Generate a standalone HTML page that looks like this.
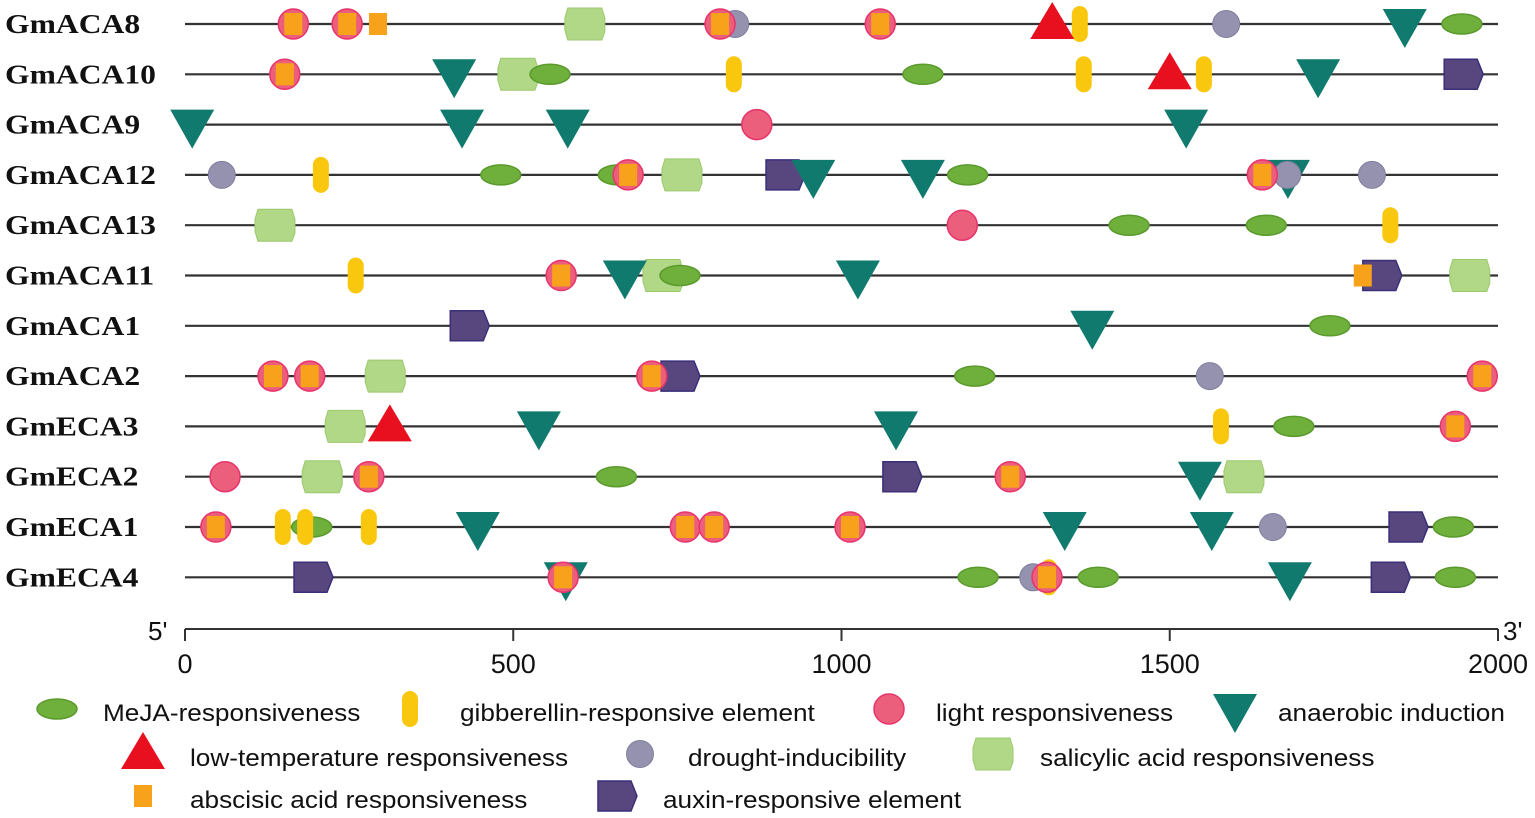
<!DOCTYPE html>
<html><head><meta charset="utf-8">
<style>
body{margin:0;background:#fff;width:1535px;height:818px;overflow:hidden;font-family:"Liberation Sans",sans-serif}
svg{display:block}
</style></head>
<body>
<svg id="chart" width="1535" height="818" xmlns="http://www.w3.org/2000/svg"></svg>
<script>
const genes = ["GmACA8","GmACA10","GmACA9","GmACA12","GmACA13","GmACA11","GmACA1","GmACA2","GmECA3","GmECA2","GmECA1","GmECA4"];
// M=MeJA, G=gibberellin, L=light, A=anaerobic, T=low-temp, D=drought, S=salicylic, B=abscisic, X=auxin, LB=light+abscisic
const elements = [
 [[165,"LB"],[247,"LB"],[294,"B"],[609,"S"],[838,"D"],[815,"LB"],[1059,"LB"],[1321,"T"],[1363,"G"],[1586,"D"],[1858,"A"],[1945,"M"]],
 [[152,"LB"],[410,"A"],[556,"M"],[507,"S"],[836,"G"],[1124,"M"],[1369,"G"],[1500,"T"],[1552,"G"],[1726,"A"],[1947,"X"]],
 [[11,"A"],[422,"A"],[583,"A"],[871,"L"],[1525,"A"]],
 [[56,"D"],[207,"G"],[481,"M"],[660,"M"],[675,"LB"],[757,"S"],[914,"X"],[957,"A"],[1124,"A"],[1192,"M"],[1680,"A"],[1641,"LB"],[1679,"D"],[1808,"D"]],
 [[137,"S"],[1184,"L"],[1438,"M"],[1647,"M"],[1836,"G"]],
 [[260,"G"],[573,"LB"],[670,"A"],[754,"M"],[728,"S"],[1025,"A"],[1794,"B"],[1823,"X"],[1957,"S"]],
 [[433,"X"],[1382,"A"],[1744,"M"]],
 [[134,"LB"],[190,"LB"],[305,"S"],[711,"LB"],[754,"X"],[1203,"M"],[1561,"D"],[1976,"LB"]],
 [[244,"S"],[312,"T"],[539,"A"],[1083,"A"],[1578,"G"],[1689,"M"],[1935,"LB"]],
 [[61,"L"],[209,"S"],[280,"LB"],[657,"M"],[1092,"X"],[1257,"LB"],[1546,"A"],[1613,"S"]],
 [[47,"LB"],[149,"G"],[193,"M"],[183,"G"],[280,"G"],[446,"A"],[762,"LB"],[806,"LB"],[1013,"LB"],[1340,"A"],[1564,"A"],[1657,"D"],[1863,"X"],[1932,"M"]],
 [[195,"X"],[580,"A"],[576,"LB"],[1208,"M"],[1292,"D"],[1316,"G"],[1313,"LB"],[1391,"M"],[1683,"A"],[1836,"X"],[1935,"M"]]
];
const ticks = [0,500,1000,1500,2000];
const legendItems = [
 ["M","MeJA-responsiveness",57,103,713],["G","gibberellin-responsive element",410,460,713],["L","light responsiveness",889,936,713],["A","anaerobic induction",1235,1278,713],
 ["T","low-temperature responsiveness",143,190,758],["D","drought-inducibility",640,688,758],["S","salicylic acid responsiveness",993,1040,758],
 ["B","abscisic acid responsiveness",143,190,800],["X","auxin-responsive element",617,663,800]
];
const NS="http://www.w3.org/2000/svg", svg=document.getElementById("chart");
const x0=185,x1=1498,xs=v=>x0+(x1-x0)*v/2000;
const ys=i=>24+i*50.3;
function mk(tag,at,parent){const e=document.createElementNS(NS,tag);for(const k in at)e.setAttribute(k,at[k]);(parent||svg).appendChild(e);return e;}
function stretch(t,f){const l=t.getComputedTextLength();t.setAttribute("textLength",l*f);t.setAttribute("lengthAdjust","spacingAndGlyphs");}
function shape(t,cx,cy,g){
 if(t==="M")return mk("ellipse",{cx,cy,rx:20,ry:10,fill:"#6fb03c",stroke:"#5a9a2c","stroke-width":1.5},g);
 if(t==="G")return mk("rect",{x:cx-8,y:cy-18,width:16,height:36,rx:8,fill:"#f9c80e"},g);
 if(t==="L")return mk("circle",{cx,cy,r:15,fill:"#ec5f7c",stroke:"#e8336b","stroke-width":1.5},g);
 if(t==="A")return mk("polygon",{points:`${cx-22},${cy-15} ${cx+22},${cy-15} ${cx},${cy+24}`,fill:"#117a6e"},g);
 if(t==="T")return mk("polygon",{points:`${cx-22},${cy+15} ${cx+22},${cy+15} ${cx},${cy-22}`,fill:"#e8101f"},g);
 if(t==="D")return mk("circle",{cx,cy,r:13.5,fill:"#9492ae",stroke:"#807ea0","stroke-width":1},g);
 if(t==="S")return mk("polygon",{points:`${cx-17},${cy-16} ${cx+17},${cy-16} ${cx+20},${cy-6} ${cx+20},${cy+8} ${cx+17},${cy+16} ${cx-17},${cy+16} ${cx-20},${cy+6} ${cx-20},${cy-6}`,fill:"#b1d886",stroke:"#9cc86d","stroke-width":1},g);
 if(t==="B")return mk("rect",{x:cx-9,y:cy-11,width:18,height:22,fill:"#f8a21b"},g);
 if(t==="X")return mk("polygon",{points:`${cx-19},${cy-15} ${cx+14},${cy-15} ${cx+20},${cy} ${cx+14},${cy+15} ${cx-19},${cy+15}`,fill:"#58467f",stroke:"#3b2f7a","stroke-width":1.5},g);
 if(t==="LB"){shape("L",cx,cy,g);return shape("B",cx,cy,g);}
}
const order={S:0,M:1,X:2,A:3,D:4,G:5,L:6,LB:7,B:8,T:9};
genes.forEach((gname,i)=>{
 const y=ys(i);
 const lab=mk("text",{x:5,y:y+9,"font-family":"Liberation Serif, serif","font-weight":"bold","font-size":27,fill:"#111"});
 lab.textContent=gname;
 
 
 stretch(lab,1.17);
 const ln=mk("line",{x1:x0,x2:x1,y1:y,y2:y,stroke:"#333","stroke-width":2.2});
 
 
 const els=elements[i].slice().sort((a,b)=>order[a[1]]-order[b[1]]);
 els.forEach(([pos,t])=>{
  const g=mk("g",{});
  
  
  shape(t,xs(pos),y,g);
 });
});
// axis
const ay=629;
const ax=mk("line",{x1:x0,x2:x1,y1:ay,y2:ay,stroke:"#333","stroke-width":2});


ticks.forEach(t=>{
 const tk=mk("line",{x1:xs(t),x2:xs(t),y1:ay,y2:ay+12,stroke:"#333","stroke-width":2});
 
 
 const tl=mk("text",{x:xs(t),y:ay+44,"text-anchor":"middle","font-size":27,fill:"#111"});
 tl.textContent=t;
 
 
});
const p5=mk("text",{x:148,y:640,"font-size":26,fill:"#111"});p5.textContent="5'";


const p3=mk("text",{x:1503,y:640,"font-size":26,fill:"#111"});p3.textContent="3'";


legendItems.forEach(([t,txt,ix,tx,y])=>{
 const g=mk("g",{});
 
 
 shape(t,ix,y-4,g);
 const te=mk("text",{x:tx,y:y+8,"font-size":24,fill:"#111"},g);
 te.textContent=txt;
 stretch(te,1.09);
});
</script>
</body></html>
